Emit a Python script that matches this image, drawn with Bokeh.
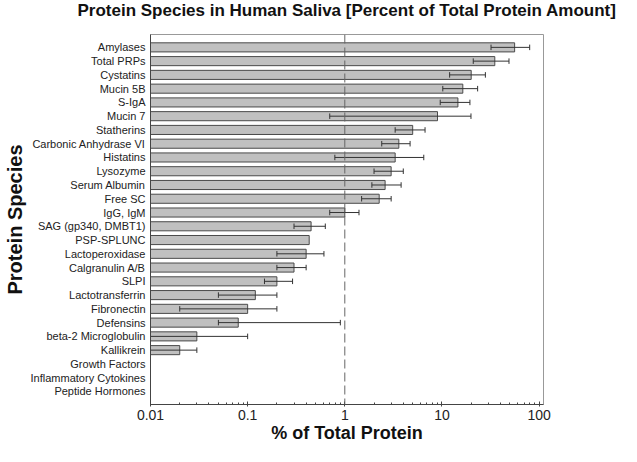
from bokeh.plotting import figure
from bokeh.models import Range1d, FixedTicker, Span, ColumnDataSource, LogTicker, Title
from bokeh.embed import file_html
from bokeh.resources import INLINE

categories = ["Amylases", "Total PRPs", "Cystatins", "Mucin 5B", "S-IgA", "Mucin 7",
              "Statherins", "Carbonic Anhydrase VI", "Histatins", "Lysozyme",
              "Serum Albumin", "Free SC", "IgG, IgM", "SAG (gp340, DMBT1)", "PSP-SPLUNC",
              "Lactoperoxidase", "Calgranulin A/B", "SLPI", "Lactotransferrin",
              "Fibronectin", "Defensins", "beta-2 Microglobulin", "Kallikrein",
              "Growth Factors", "Inflammatory Cytokines", "Peptide Hormones"]
values = [56, 35, 20, 16.4, 14.6, 9.0, 5.0, 3.6, 3.3, 3.0, 2.6, 2.26, 1.0, 0.45, 0.43,
          0.40, 0.30, 0.20, 0.12, 0.10, 0.08, 0.03, 0.02, None, None, None]
err_low = [32, 21, 12, 10.2, 9.6, 0.70, 3.3, 2.4, 0.79, 2.0, 1.9, 1.49, 0.70, 0.30, None,
           0.20, 0.20, 0.149, 0.05, 0.02, 0.05, 0.01, 0.01, None, None, None]
err_high = [80, 49, 28, 23.3, 19.4, 19.9, 6.7, 4.7, 6.5, 4.0, 3.8, 3.0, 1.4, 0.63, None,
            0.61, 0.40, 0.29, 0.20, 0.20, 0.90, 0.10, 0.03, None, None, None]
x_ticks = [0.01, 0.1, 1, 10, 100]
x_tick_labels = ["0.01", "0.1", "1", "10", "100"]
title_text = "Protein Species in Human Saliva [Percent of Total Protein Amount]"
x_title = "% of Total Protein"
y_title = "Protein Species"

n = len(categories)
pos = list(range(n))

bar_src = ColumnDataSource(dict(
    y=[pos[i] for i in range(n) if values[i] is not None],
    right=[values[i] for i in range(n) if values[i] is not None],
))
eb_y = [pos[i] for i in range(n) if err_low[i] is not None]
eb_lo = [err_low[i] for i in range(n) if err_low[i] is not None]
eb_hi = [err_high[i] for i in range(n) if err_low[i] is not None]
eb_src = ColumnDataSource(dict(y=eb_y, lo=eb_lo, hi=eb_hi))
cap_src = ColumnDataSource(dict(
    x=eb_lo + eb_hi,
    y0=[y - 0.2 for y in eb_y] * 2,
    y1=[y + 0.2 for y in eb_y] * 2,
))

FONT = "Liberation Sans"
X_MIN, X_MAX = 0.01, 111
Y_TOP, Y_BOT = -0.935, n - 1 + 0.95

p = figure(width=621, height=446, output_backend="svg", toolbar_location=None,
           x_axis_type="log", x_range=Range1d(X_MIN, X_MAX),
           y_range=Range1d(Y_BOT, Y_TOP),
           min_border_left=149, min_border_right=78, min_border_top=0,
           min_border_bottom=42)

# spacer between frame and title (added first -> nearest to the frame)
p.add_layout(Title(text=" ", text_font_size="8px", standoff=2), "above")
p.add_layout(Title(text=title_text, text_font=FONT, text_font_size="17px",
                   text_font_style="bold", align="center", vertical_align="top",
                   text_color="#111111", standoff=0), "above")

p.hbar(y="y", right="right", left=X_MIN, height=0.66, source=bar_src,
       fill_color="#c0c0c0", line_color="#4a4a4a", line_width=1)
p.segment(x0="lo", x1="hi", y0="y", y1="y", source=eb_src, line_color="#333333", line_width=1)
p.segment(x0="x", x1="x", y0="y0", y1="y1", source=cap_src, line_color="#333333", line_width=1)

p.add_layout(Span(location=1, dimension="height", line_color="#666666",
                  line_dash="9 4", line_width=1))

p.xgrid.visible = False
p.ygrid.visible = False
p.outline_line_color = "#999999"

xa = p.xaxis[0]
xa.ticker = LogTicker(desired_num_ticks=5, num_minor_ticks=10)
xa.major_label_overrides = {t: l for t, l in zip(x_ticks, x_tick_labels)}
xa.major_label_text_font = FONT
xa.major_label_text_font_size = "14px"
xa.major_label_text_color = "#222222"
xa.major_tick_in = 3
xa.major_tick_out = 2
xa.minor_tick_in = 2
xa.minor_tick_out = 0
xa.major_label_standoff = 3
xa.axis_line_color = "#444444"
xa.major_tick_line_color = "#444444"
xa.minor_tick_line_color = "#444444"
xa.axis_label = x_title
xa.axis_label_text_font = FONT
xa.axis_label_text_font_size = "18px"
xa.axis_label_text_font_style = "bold"
xa.axis_label_text_color = "#111111"
xa.axis_label_standoff = 0

ya = p.yaxis[0]
ya.ticker = FixedTicker(ticks=pos)
ya.major_label_overrides = {i: c for i, c in zip(pos, categories)}
ya.major_label_text_font = FONT
ya.major_label_text_font_size = "11px"
ya.major_label_text_color = "#222222"
ya.major_tick_line_color = None
ya.minor_tick_line_color = None
ya.major_tick_out = 0
ya.major_tick_in = 0
ya.major_label_standoff = 5
ya.axis_line_color = "#444444"
ya.axis_label = y_title
ya.axis_label_text_font = FONT
ya.axis_label_text_font_size = "20px"
ya.axis_label_text_font_style = "bold"
ya.axis_label_text_color = "#111111"
ya.axis_label_standoff = 2

open("out.html", "w").write(file_html(p, INLINE))
